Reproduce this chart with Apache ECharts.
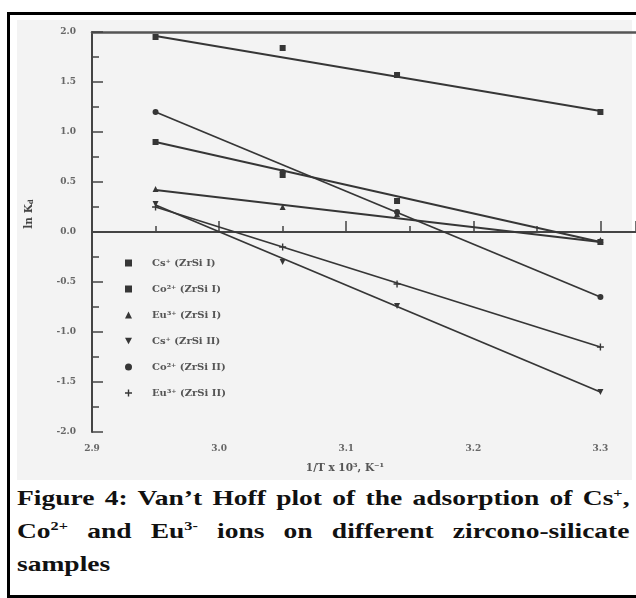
<!DOCTYPE html>
<html>
<head>
<meta charset="utf-8">
<script src="https://cdn.jsdelivr.net/npm/echarts@6/dist/echarts.min.js"></script>
<style>
  html, body { margin: 0; padding: 0; background: #fff; width: 636px; height: 598px; overflow: hidden; }
  #frame { position: absolute; left: 7px; top: 12px; width: 660px; height: 580px; border: 3px solid #000; border-right: none; }
  #panel { position: absolute; left: 17px; top: 20px; width: 615px; height: 460px; background: #f3f3f3; }
  #chart { position: absolute; left: 0; top: 0; width: 636px; height: 480px; }
  /* caption face is a wide Garamond in the scan: widen Liberation Serif to match */
  #caption { position: absolute; left: 17px; top: 481px; width: 490px; transform: scaleX(1.25); transform-origin: 0 0;
             font-family: "Liberation Serif", serif; font-weight: bold; font-size: 22px; line-height: 33px; color: #111; }
  #caption div { text-align: justify; text-align-last: justify; white-space: nowrap; }
  #caption div.last { text-align-last: left; }
  #caption sup { font-size: 13px; vertical-align: 8px; line-height: 0; }
</style>
</head>
<body>
<div id="frame"></div>
<div id="panel"></div>
<div id="chart"></div>
<div id="caption">
  <div>Figure 4: Van’t Hoff plot of the adsorption of Cs<sup>+</sup>,</div>
  <div>Co<sup>2+</sup> and Eu<sup>3-</sup> ions on different zircono-silicate</div>
  <div class="last">samples</div>
</div>
<script>
// 1/T x 10^3 values where ln Kd was measured
var tempX = [2.95, 3.05, 3.14, 3.3]
var csI = [1.95, 1.84, 1.57, 1.2]
var coI = [0.9, 0.57, 0.31, -0.1]
var euI = [0.43, 0.25, 0.18, -0.08]
var csII = [0.28, -0.30, -0.74, -1.6]
var coII = [1.2, 0.6, 0.2, -0.65]
var euII = [0.25, -0.15, -0.52, -1.15]

// fitted straight lines, read at both ends
var fitX = [2.95, 3.3]
var csIFit = [1.96, 1.21]
var coIFit = [0.9, -0.1]
var euIFit = [0.42, -0.1]
var csIIFit = [0.27, -1.6]
var coIIFit = [1.2, -0.65]
var euIIFit = [0.25, -1.15]

var yTicks = ['-2.0', '-1.5', '-1.0', '-0.5', '0.0', '0.5', '1.0', '1.5', '2.0']

var names = ['Cs⁺ (ZrSi I)', 'Co²⁺ (ZrSi I)', 'Eu³⁺ (ZrSi I)', 'Cs⁺ (ZrSi II)', 'Co²⁺ (ZrSi II)', 'Eu³⁺ (ZrSi II)']
var pointSets = [csI, coI, euI, csII, coII, euII]
var fitSets = [csIFit, coIFit, euIFit, csIIFit, coIIFit, euIIFit]
var plus = 'path://M4,0h2v4h4v2h-4v4h-2v-4h-4v-2h4z'
var downTri = 'path://M0,0L10,0L5,9Z'
var symbols = ['rect', 'rect', 'triangle', downTri, 'circle', plus]

var ink = '#363636'
var serif = '"DejaVu Serif", "Liberation Serif", serif'

function pairs(xs, ys) {
  return xs.map(function (x, i) { return [x, ys[i]] })
}

var series = []
fitSets.forEach(function (f, i) {
  series.push({
    name: 'fit ' + i,
    type: 'line',
    data: pairs(fitX, f),
    symbol: 'none',
    silent: true,
    lineStyle: { color: ink, width: 1.8 },
    z: 2
  })
})
pointSets.forEach(function (p, i) {
  series.push({
    name: names[i],
    type: 'scatter',
    data: pairs(tempX, p),
    symbol: symbols[i],
    symbolSize: i === 5 ? 7 : 6,
    itemStyle: { color: ink, opacity: 1 },
    z: 3
  })
})

var chart = echarts.init(document.getElementById('chart'), null, { renderer: 'canvas' })
chart.setOption({
  animation: false,
  backgroundColor: 'transparent',
  grid: { left: 92, top: 32, right: 0, bottom: 48, containLabel: false },
  legend: {
    data: names,
    orient: 'vertical',
    left: 120,
    top: 253,
    itemWidth: 7,
    itemHeight: 7,
    itemGap: 16,
    textStyle: { fontFamily: serif, fontWeight: 'bold', fontSize: 10, color: '#555', padding: [0, 0, 0, 15] }
  },
  xAxis: [{
    type: 'value',
    min: 2.9,
    max: 3.328,
    interval: 0.1,
    name: '1/T x 10³, K⁻¹',
    nameLocation: 'middle',
    nameGap: 31,
    nameTextStyle: { fontFamily: serif, fontWeight: 'bold', fontSize: 10.5, color: '#555', padding: [0, 38, 0, 0] },
    axisLine: { lineStyle: { color: '#444', width: 2 } },
    axisTick: { inside: true, length: 11, lineStyle: { color: '#444', width: 1.5 } },
    minorTick: { show: true, splitNumber: 2, length: 6, lineStyle: { color: '#444', width: 1.5 } },
    splitLine: { show: false },
    axisLabel: {
      margin: 12, fontFamily: serif, fontWeight: 'bold', fontSize: 9, color: '#666', showMaxLabel: false,
      formatter: function (v) { return v.toFixed(1) }
    }
  }, {
    type: 'value',
    position: 'top',
    min: 2.9,
    max: 3.328,
    axisLine: { show: true, lineStyle: { color: '#555', width: 2.5 } },
    axisTick: { show: false },
    axisLabel: { show: false },
    splitLine: { show: false }
  }],
  yAxis: {
    type: 'value',
    min: -2,
    max: 2,
    interval: 0.5,
    name: 'ln K{sub|d}',
    nameLocation: 'middle',
    nameRotate: 90,
    nameGap: 57,
    nameTextStyle: {
      fontFamily: serif, fontWeight: 'bold', fontSize: 10.5, color: '#444', padding: [0, 0, 0, 36],
      rich: { sub: { fontFamily: serif, fontSize: 7, fontWeight: 'bold', color: '#444', verticalAlign: 'bottom', padding: [4, 0, 0, 0] } }
    },
    axisLine: { show: true, lineStyle: { color: '#444', width: 2 } },
    axisTick: { inside: true, length: 11, lineStyle: { color: '#444', width: 1.5 } },
    minorTick: { show: true, splitNumber: 2, length: 7, lineStyle: { color: '#444', width: 1.5 } },
    splitLine: { show: false },
    axisLabel: {
      margin: 16, fontFamily: serif, fontWeight: 'bold', fontSize: 9, color: '#666',
      formatter: function (v) { return yTicks[Math.round((v + 2) / 0.5)] }
    }
  },
  series: series
})
</script>
</body>
</html>
